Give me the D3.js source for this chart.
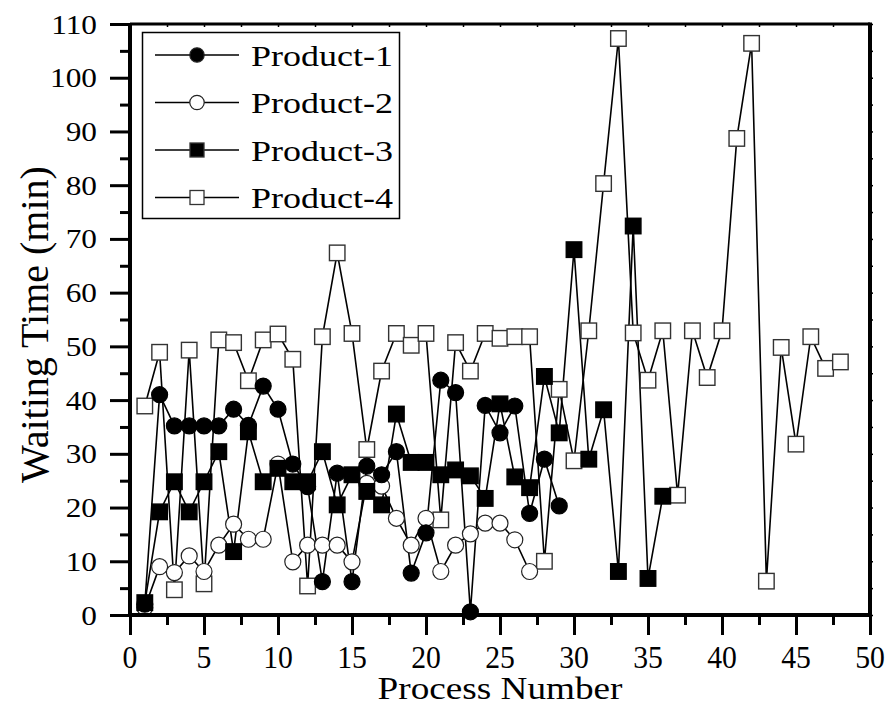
<!DOCTYPE html>
<html>
<head>
<meta charset="utf-8">
<script src="https://cdn.jsdelivr.net/npm/d3@7"></script>
<style>
  body { margin: 0; background: #fff; }
  svg { display: block; }
  text { font-family: "Liberation Serif", "Times New Roman", serif; fill: #000; }
</style>
</head>
<body>
<div id="chart"></div>
<script>
// ---- Data ----
const seriesNames = ["Product-1", "Product-2", "Product-3", "Product-4"];
const product1 = [2, 41, 35.2, 35.2, 35.2, 35.2, 38.3, 35.3, 42.6, 38.3, 28.1, 23.9, 6.2, 26.4, 6.2, 27.7, 26.1, 30.4, 7.8, 15.3, 43.7, 41.4, 0.6, 39, 33.9, 38.9, 18.9, 29, 20.3];
const product2 = [1.4, 9.0, 7.9, 11.0, 8.1, 13.0, 16.9, 14.1, 14.1, 28.1, 9.9, 13.0, 13.0, 13.0, 9.9, 24.5, 24.0, 18.0, 13.0, 18.0, 8.1, 13.0, 15.1, 17.1, 17.1, 14.0, 8.1];
const product3 = [2.3, 19.2, 24.8, 19.2, 24.8, 30.4, 11.8, 34.1, 24.8, 27.3, 24.8, 24.8, 30.4, 20.5, 26.1, 23.0, 20.5, 37.4, 28.4, 28.4, 26.1, 27.0, 25.9, 21.7, 39.3, 25.7, 23.7, 44.4, 33.9, 68.0, 29.0, 38.2, 8.1, 72.4, 6.8, 22.1];
const product4 = [38.9, 48.9, 4.7, 49.3, 5.8, 51.2, 50.7, 43.6, 51.2, 52.3, 47.6, 5.4, 51.8, 67.4, 52.4, 30.8, 45.4, 52.4, 50.2, 52.4, 17.7, 50.7, 45.4, 52.4, 51.5, 51.8, 51.8, 10.0, 42.0, 28.7, 52.9, 80.3, 107.3, 52.5, 43.7, 52.9, 22.3, 52.9, 44.2, 52.9, 88.7, 106.4, 6.3, 49.8, 31.8, 51.8, 45.9, 47.1];
const xTicks = [0, 5, 10, 15, 20, 25, 30, 35, 40, 45, 50];
const yTicks = [0, 10, 20, 30, 40, 50, 60, 70, 80, 90, 100, 110];
const xLabel = "Process Number";
const yLabel = "Waiting Time (min)";

// ---- Layout ----
const W = 891, H = 708;
const L = 130, R = 870, T = 24, B = 615;
const svg = d3.select("#chart").append("svg").attr("width", W).attr("height", H);

const x = d3.scaleLinear().domain([0, 50]).range([L, R]);
const y = d3.scaleLinear().domain([0, 110]).range([B, T]);

const series = [
  { name: seriesNames[0], values: product1, shape: "circle", fill: "#000" },
  { name: seriesNames[1], values: product2, shape: "circle", fill: "#fff" },
  { name: seriesNames[2], values: product3, shape: "square", fill: "#000" },
  { name: seriesNames[3], values: product4, shape: "square", fill: "#fff" }
];

// stretched text helper
function stext(g, tx, ty, str, size, sx, anchor, sy) {
  return g.append("text")
    .attr("transform", `translate(${tx},${ty}) scale(${sx},${sy || 1})`)
    .attr("text-anchor", anchor)
    .style("font-size", size + "px")
    .text(str);
}

// ---- Lines & markers ----
const drawOrder = [3, 1, 2, 0];
const line = d3.line().x((d, i) => x(i + 1)).y(d => y(d));
const plot = svg.append("g");
drawOrder.forEach(k => {
  const s = series[k];
  plot.append("path").datum(s.values)
    .attr("d", line).attr("fill", "none").attr("stroke", "#000").attr("stroke-width", 1.6);
});
drawOrder.forEach(k => {
  const s = series[k];
  const g = plot.append("g");
  s.values.forEach((v, i) => {
    if (s.shape === "circle") {
      g.append("circle").attr("cx", x(i + 1)).attr("cy", y(v)).attr("r", 8)
        .attr("fill", s.fill).attr("stroke", s.fill === "#000" ? "#000" : "#222").attr("stroke-width", 1.2);
    } else {
      const a = 15.5;
      g.append("rect").attr("x", x(i + 1) - a / 2).attr("y", y(v) - a / 2).attr("width", a).attr("height", a)
        .attr("fill", s.fill).attr("stroke", s.fill === "#000" ? "#000" : "#333").attr("stroke-width", 1.4);
    }
  });
});

// ---- Axes ----
const axes = svg.append("g");
const xAxis = d3.axisBottom(x).tickValues(xTicks).tickSize(20).tickFormat("");
const gx = axes.append("g").attr("transform", `translate(0,${B})`).call(xAxis);
const xMinor = d3.axisBottom(x).tickValues(d3.range(2.5, 50, 5)).tickSize(10).tickFormat("");
const gxm = axes.append("g").attr("transform", `translate(0,${B})`).call(xMinor);
const yAxis = d3.axisLeft(y).tickValues(yTicks).tickSize(20).tickFormat("");
const gy = axes.append("g").attr("transform", `translate(${L},0)`).call(yAxis);
const yMinor = d3.axisLeft(y).tickValues(d3.range(5, 110, 10)).tickSize(10).tickFormat("");
const gym = axes.append("g").attr("transform", `translate(${L},0)`).call(yMinor);
const gt = axes.append("g").attr("transform", `translate(0,${T})`)
  .call(d3.axisBottom(x).tickValues(d3.range(0, 50.1, 2.5)).tickSize(3).tickFormat(""));
const gr = axes.append("g").attr("transform", `translate(${R},0)`)
  .call(d3.axisRight(y).tickValues(d3.range(0, 110.1, 5)).tickSize(3).tickFormat(""));
[gx, gxm, gy, gym, gt, gr].forEach(g => {
  g.selectAll(".tick line").attr("stroke", "#000").attr("stroke-width", 3);
  g.select(".domain").remove();
});
gt.selectAll(".tick line").attr("stroke-width", 1.5);
gr.selectAll(".tick line").attr("stroke-width", 1.5);

axes.append("line").attr("x1", L - 1).attr("x2", R + 2).attr("y1", B).attr("y2", B).attr("stroke", "#000").attr("stroke-width", 4);
axes.append("line").attr("x1", L).attr("x2", L).attr("y1", T - 1).attr("y2", B + 2).attr("stroke", "#000").attr("stroke-width", 4);
axes.append("line").attr("x1", L).attr("x2", R).attr("y1", T).attr("y2", T).attr("stroke", "#000").attr("stroke-width", 3);
axes.append("line").attr("x1", R).attr("x2", R).attr("y1", T - 1.5).attr("y2", B + 2).attr("stroke", "#000").attr("stroke-width", 4);

// tick labels
const labels = svg.append("g");
xTicks.forEach(t => stext(labels, x(t), 668, String(t), 27, 1.1, "middle", 1.15));
yTicks.forEach(t => stext(labels, 97, y(t) + 9.5, String(t), 27, 1.16, "end"));

// axis titles
stext(labels, (L + R) / 2, 699, xLabel, 31, 1.2, "middle");
labels.append("text")
  .attr("transform", `translate(48,${(T + B) / 2 + 5}) rotate(-90)`)
  .attr("text-anchor", "middle")
  .style("font-size", "40px")
  .text(yLabel);

// ---- Legend ----
const lg = svg.append("g");
lg.append("rect").attr("x", 142.5).attr("y", 32.5).attr("width", 257).attr("height", 186)
  .attr("fill", "#fff").attr("stroke", "#000").attr("stroke-width", 1.5);
const rowY = [55, 102.5, 150, 197.5];
series.forEach((s, i) => {
  const cy = rowY[i];
  lg.append("line").attr("x1", 155).attr("x2", 239).attr("y1", cy).attr("y2", cy)
    .attr("stroke", "#000").attr("stroke-width", 1.6);
  if (s.shape === "circle") {
    lg.append("circle").attr("cx", 197).attr("cy", cy).attr("r", 7.2)
      .attr("fill", s.fill).attr("stroke", "#222").attr("stroke-width", 1.2);
  } else {
    lg.append("rect").attr("x", 197 - 7).attr("y", cy - 7).attr("width", 14).attr("height", 14)
      .attr("fill", s.fill).attr("stroke", "#333").attr("stroke-width", 1.3);
  }
  stext(lg, 251, cy + 10.5, s.name, 30, 1.2, "start");
});
</script>
</body>
</html>
